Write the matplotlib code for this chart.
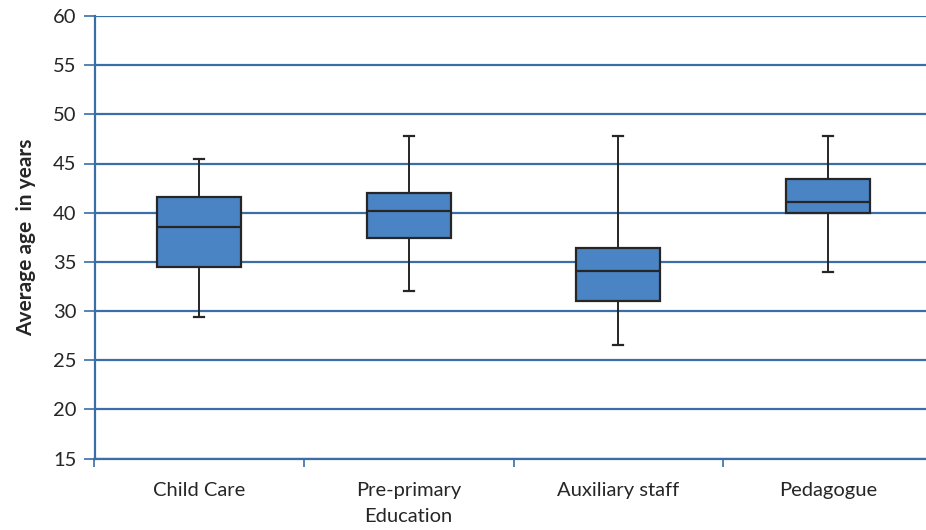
import matplotlib.pyplot as plt

# --- data ---
categories = ['Child Care', 'Pre-primary\nEducation', 'Auxiliary staff', 'Pedagogue']
whisker_low = [29.4, 32.0, 26.5, 34.0]
q1 = [34.5, 37.4, 31.0, 40.0]
median = [38.5, 40.2, 34.1, 41.1]
q3 = [41.6, 42.0, 36.4, 43.4]
whisker_high = [45.5, 47.8, 47.8, 47.8]

y_ticks = list(range(15, 61, 5))

BOX_FILL = '#4a84c4'
EDGE = '#262626'
GRID = '#3a6ea8'
TEXT = '#262626'

plt.rcParams['font.family'] = ['Lato', 'DejaVu Sans']

fig = plt.figure(figsize=(9.26, 5.30), dpi=100)
ax = fig.add_axes([94.5 / 926, 1 - 458.5 / 530, 838 / 926, (458.5 - 16) / 530])

stats = []
for i, name in enumerate(categories):
    stats.append({
        'label': name,
        'whislo': whisker_low[i],
        'q1': q1[i],
        'med': median[i],
        'q3': q3[i],
        'whishi': whisker_high[i],
        'fliers': [],
    })

ax.bxp(
    stats,
    positions=range(len(categories)),
    widths=0.4,
    capwidths=0.05,
    patch_artist=True,
    boxprops=dict(facecolor=BOX_FILL, edgecolor=EDGE, linewidth=1.6),
    medianprops=dict(color=EDGE, linewidth=1.6),
    whiskerprops=dict(color=EDGE, linewidth=1.4),
    capprops=dict(color=EDGE, linewidth=1.6),
    showfliers=False,
    zorder=3,
)

ax.set_xlim(-0.5, len(categories) - 0.5)
ax.set_ylim(15, 60)
ax.set_yticks(y_ticks)
ax.set_yticklabels([str(t) for t in y_ticks], fontsize=14.5, color=TEXT)

# category labels centred, tick marks at category boundaries
ax.set_xticks([i + 0.5 for i in range(-1, len(categories))])
ax.set_xticklabels([])
ax.set_xticks(range(len(categories)), minor=True)
ax.set_xticklabels(categories, minor=True, fontsize=14.5, color=TEXT, linespacing=1.65)
ax.tick_params(axis='x', which='minor', length=0, pad=17)
ax.tick_params(axis='x', which='major', length=6, width=1.2, color=GRID, direction='out')
ax.tick_params(axis='y', length=8, width=1.2, color=GRID, direction='out', pad=5)

ax.grid(axis='y', color=GRID, linewidth=1.6, zorder=0)
ax.set_axisbelow(True)

for side in ['top', 'right']:
    ax.spines[side].set_visible(False)
for side in ['left', 'bottom']:
    ax.spines[side].set_color(GRID)
    ax.spines[side].set_linewidth(1.6)

ax.set_ylabel('Average age  in years', fontsize=15, fontweight='bold', color=TEXT, labelpad=12)

fig.savefig('out.png', dpi=100)
